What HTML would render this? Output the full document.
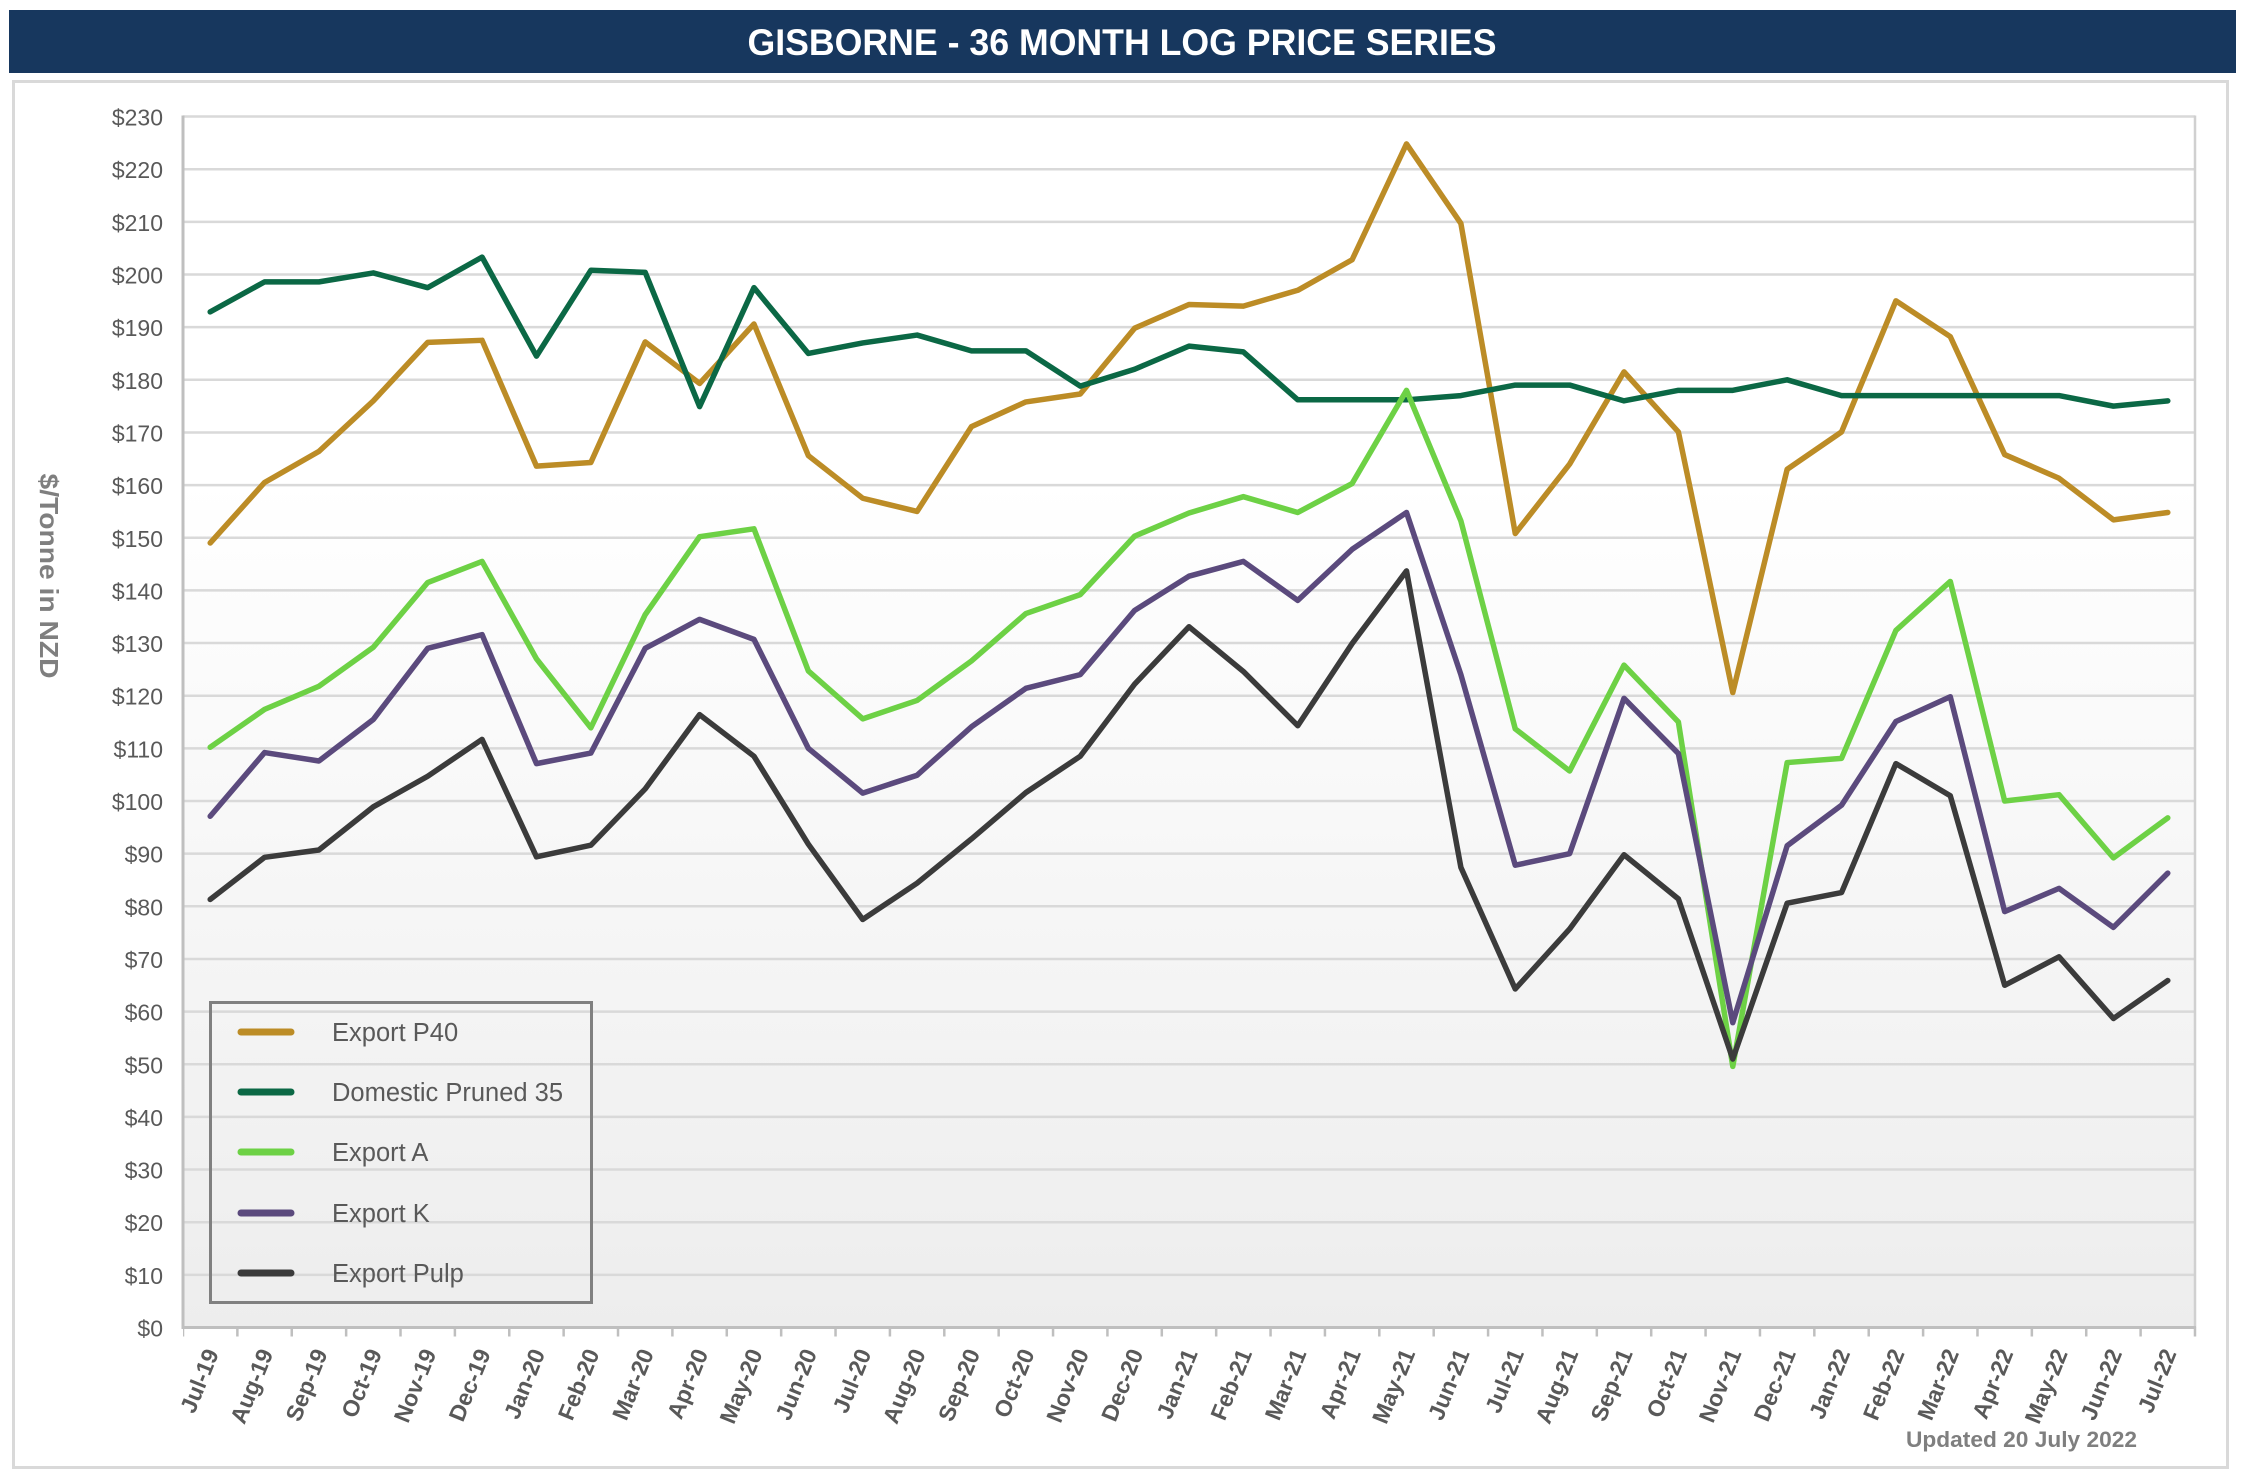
<!DOCTYPE html>
<html>
<head>
<meta charset="utf-8">
<style>
html,body{margin:0;padding:0;background:#fff;}
svg{display:block;font-family:"Liberation Sans",Arial,sans-serif;}
</style>
</head>
<body>
<svg width="2242" height="1482" viewBox="0 0 2242 1482" xmlns="http://www.w3.org/2000/svg">
<defs>
<linearGradient id="bg" x1="0" y1="0" x2="0" y2="1">
<stop offset="0" stop-color="#ffffff"/>
<stop offset="0.3" stop-color="#ffffff"/>
<stop offset="1" stop-color="#ededed"/>
</linearGradient>
</defs>
<!-- header -->
<rect x="9" y="10" width="2227" height="63" fill="#17375E"/>
<text x="1122" y="55" fill="#ffffff" font-size="37" font-weight="bold" text-anchor="middle" textLength="749" lengthAdjust="spacingAndGlyphs">GISBORNE - 36 MONTH LOG PRICE SERIES</text>
<!-- chart area -->
<rect x="13.5" y="81.5" width="2214" height="1386" fill="#ffffff" stroke="#d9d9d9" stroke-width="3"/>
<!-- plot area -->
<rect x="183" y="116.5" width="2012" height="1211" fill="url(#bg)"/>
<g stroke="#d9d9d9" stroke-width="2.5">
<line x1="183" x2="2195" y1="116.55" y2="116.55"/>
<line x1="183" x2="2195" y1="169.2" y2="169.2"/>
<line x1="183" x2="2195" y1="221.85" y2="221.85"/>
<line x1="183" x2="2195" y1="274.5" y2="274.5"/>
<line x1="183" x2="2195" y1="327.15" y2="327.15"/>
<line x1="183" x2="2195" y1="379.8" y2="379.8"/>
<line x1="183" x2="2195" y1="432.45" y2="432.45"/>
<line x1="183" x2="2195" y1="485.1" y2="485.1"/>
<line x1="183" x2="2195" y1="537.75" y2="537.75"/>
<line x1="183" x2="2195" y1="590.4" y2="590.4"/>
<line x1="183" x2="2195" y1="643.05" y2="643.05"/>
<line x1="183" x2="2195" y1="695.7" y2="695.7"/>
<line x1="183" x2="2195" y1="748.35" y2="748.35"/>
<line x1="183" x2="2195" y1="801" y2="801"/>
<line x1="183" x2="2195" y1="853.65" y2="853.65"/>
<line x1="183" x2="2195" y1="906.3" y2="906.3"/>
<line x1="183" x2="2195" y1="958.95" y2="958.95"/>
<line x1="183" x2="2195" y1="1011.6" y2="1011.6"/>
<line x1="183" x2="2195" y1="1064.25" y2="1064.25"/>
<line x1="183" x2="2195" y1="1116.9" y2="1116.9"/>
<line x1="183" x2="2195" y1="1169.55" y2="1169.55"/>
<line x1="183" x2="2195" y1="1222.2" y2="1222.2"/>
<line x1="183" x2="2195" y1="1274.85" y2="1274.85"/>
</g>
<!-- right border -->
<line x1="2195" x2="2195" y1="115.5" y2="1328" stroke="#d0d0d0" stroke-width="2.5"/>
<!-- axes -->
<line x1="183" x2="183" y1="115.5" y2="1329" stroke="#bfbfbf" stroke-width="3"/>
<line x1="181.5" x2="2196" y1="1327.5" y2="1327.5" stroke="#bfbfbf" stroke-width="3"/>
<line x1="183" x2="2197" y1="1332" y2="1332" stroke="#bfbfbf" stroke-width="9" stroke-dasharray="2.5 51.878" stroke-dashoffset="1.25"/>
<!-- y labels -->
<g fill="#595959" font-size="23" text-anchor="end">
<text x="163" y="125.55">$230</text>
<text x="163" y="178.2">$220</text>
<text x="163" y="230.85">$210</text>
<text x="163" y="283.5">$200</text>
<text x="163" y="336.15">$190</text>
<text x="163" y="388.8">$180</text>
<text x="163" y="441.45">$170</text>
<text x="163" y="494.1">$160</text>
<text x="163" y="546.75">$150</text>
<text x="163" y="599.4">$140</text>
<text x="163" y="652.05">$130</text>
<text x="163" y="704.7">$120</text>
<text x="163" y="757.35">$110</text>
<text x="163" y="810">$100</text>
<text x="163" y="862.65">$90</text>
<text x="163" y="915.3">$80</text>
<text x="163" y="967.95">$70</text>
<text x="163" y="1020.6">$60</text>
<text x="163" y="1073.25">$50</text>
<text x="163" y="1125.9">$40</text>
<text x="163" y="1178.55">$30</text>
<text x="163" y="1231.2">$20</text>
<text x="163" y="1283.85">$10</text>
<text x="163" y="1336.5">$0</text>
</g>
<!-- y title -->
<text transform="translate(40,576) rotate(90)" fill="#7f7f7f" font-size="26" font-weight="bold" text-anchor="middle" textLength="205" lengthAdjust="spacingAndGlyphs">$/Tonne in NZD</text>
<!-- x labels -->
<g fill="#595959" font-size="23" font-weight="bold" text-anchor="end">
<text transform="translate(219.19,1353) rotate(-68)">Jul-19</text>
<text transform="translate(273.57,1353) rotate(-68)">Aug-19</text>
<text transform="translate(327.95,1353) rotate(-68)">Sep-19</text>
<text transform="translate(382.32,1353) rotate(-68)">Oct-19</text>
<text transform="translate(436.70,1353) rotate(-68)">Nov-19</text>
<text transform="translate(491.08,1353) rotate(-68)">Dec-19</text>
<text transform="translate(545.46,1353) rotate(-68)">Jan-20</text>
<text transform="translate(599.84,1353) rotate(-68)">Feb-20</text>
<text transform="translate(654.21,1353) rotate(-68)">Mar-20</text>
<text transform="translate(708.59,1353) rotate(-68)">Apr-20</text>
<text transform="translate(762.97,1353) rotate(-68)">May-20</text>
<text transform="translate(817.35,1353) rotate(-68)">Jun-20</text>
<text transform="translate(871.73,1353) rotate(-68)">Jul-20</text>
<text transform="translate(926.10,1353) rotate(-68)">Aug-20</text>
<text transform="translate(980.48,1353) rotate(-68)">Sep-20</text>
<text transform="translate(1034.86,1353) rotate(-68)">Oct-20</text>
<text transform="translate(1089.24,1353) rotate(-68)">Nov-20</text>
<text transform="translate(1143.62,1353) rotate(-68)">Dec-20</text>
<text transform="translate(1197.99,1353) rotate(-68)">Jan-21</text>
<text transform="translate(1252.37,1353) rotate(-68)">Feb-21</text>
<text transform="translate(1306.75,1353) rotate(-68)">Mar-21</text>
<text transform="translate(1361.13,1353) rotate(-68)">Apr-21</text>
<text transform="translate(1415.51,1353) rotate(-68)">May-21</text>
<text transform="translate(1469.88,1353) rotate(-68)">Jun-21</text>
<text transform="translate(1524.26,1353) rotate(-68)">Jul-21</text>
<text transform="translate(1578.64,1353) rotate(-68)">Aug-21</text>
<text transform="translate(1633.02,1353) rotate(-68)">Sep-21</text>
<text transform="translate(1687.40,1353) rotate(-68)">Oct-21</text>
<text transform="translate(1741.77,1353) rotate(-68)">Nov-21</text>
<text transform="translate(1796.15,1353) rotate(-68)">Dec-21</text>
<text transform="translate(1850.53,1353) rotate(-68)">Jan-22</text>
<text transform="translate(1904.91,1353) rotate(-68)">Feb-22</text>
<text transform="translate(1959.29,1353) rotate(-68)">Mar-22</text>
<text transform="translate(2013.66,1353) rotate(-68)">Apr-22</text>
<text transform="translate(2068.04,1353) rotate(-68)">May-22</text>
<text transform="translate(2122.42,1353) rotate(-68)">Jun-22</text>
<text transform="translate(2176.80,1353) rotate(-68)">Jul-22</text>
</g>
<!-- series -->
<g transform="translate(210.19,1327.5) scale(54.378,-5.265)" fill="none" stroke-linejoin="round" stroke-linecap="round">
<polyline vector-effect="non-scaling-stroke" stroke="#BC8C26" stroke-width="5.5" points="0,149 1,160.5 2,166.4 3,176 4,187.1 5,187.5 6,163.6 7,164.3 8,187.2 9,179.3 10,190.6 11,165.6 12,157.5 13,155 14,171.1 15,175.8 16,177.3 17,189.8 18,194.3 19,194 20,197 21,202.8 22,224.8 23,209.7 24,150.8 25,164 26,181.5 27,170.1 28,120.6 29,163 30,170.1 31,195 32,188.2 33,165.8 34,161.3 35,153.4 36,154.8"/>
<polyline vector-effect="non-scaling-stroke" stroke="#0B6845" stroke-width="5.5" points="0,192.9 1,198.6 2,198.6 3,200.3 4,197.5 5,203.3 6,184.5 7,200.8 8,200.4 9,174.9 10,197.5 11,185 12,187 13,188.5 14,185.5 15,185.5 16,178.8 17,182 18,186.4 19,185.3 20,176.2 21,176.2 22,176.2 23,177 24,179 25,179 26,176 27,178 28,178 29,180 30,177 31,177 32,177 33,177 34,177 35,175 36,176"/>
<polyline vector-effect="non-scaling-stroke" stroke="#6DD145" stroke-width="5.5" points="0,110.2 1,117.4 2,121.8 3,129.2 4,141.5 5,145.5 6,127 7,113.9 8,135.4 9,150.2 10,151.7 11,124.7 12,115.6 13,119.1 14,126.6 15,135.6 16,139.2 17,150.3 18,154.7 19,157.8 20,154.8 21,160.3 22,178 23,153.2 24,113.7 25,105.7 26,125.8 27,115 28,49.6 29,107.3 30,108.1 31,132.4 32,141.7 33,100 34,101.2 35,89.2 36,96.8"/>
<polyline vector-effect="non-scaling-stroke" stroke="#5B4A7D" stroke-width="5.5" points="0,97.1 1,109.2 2,107.6 3,115.5 4,129 5,131.6 6,107.1 7,109.1 8,129 9,134.5 10,130.7 11,110 12,101.5 13,104.9 14,114.1 15,121.4 16,124 17,136.2 18,142.7 19,145.5 20,138.1 21,147.8 22,154.8 23,124 24,87.8 25,90 26,119.5 27,109 28,57.9 29,91.5 30,99.2 31,115.1 32,119.8 33,79 34,83.4 35,76 36,86.3"/>
<polyline vector-effect="non-scaling-stroke" stroke="#3B3B3B" stroke-width="5.5" points="0,81.3 1,89.3 2,90.7 3,98.9 4,104.7 5,111.7 6,89.4 7,91.6 8,102.3 9,116.4 10,108.5 11,91.8 12,77.5 13,84.4 14,92.8 15,101.6 16,108.5 17,122.2 18,133.1 19,124.6 20,114.3 21,129.9 22,143.7 23,87.4 24,64.3 25,75.7 26,89.8 27,81.4 28,51 29,80.6 30,82.6 31,107.1 32,101 33,65 34,70.4 35,58.7 36,65.9"/>
</g>
<!-- legend -->
<rect x="210.5" y="1002.5" width="381" height="300" fill="none" stroke="#808080" stroke-width="3"/>
<g stroke-width="7" stroke-linecap="round">
<line x1="241" x2="291" y1="1032" y2="1032" stroke="#BC8C26"/>
<line x1="241" x2="291" y1="1092" y2="1092" stroke="#0B6845"/>
<line x1="241" x2="291" y1="1152" y2="1152" stroke="#6DD145"/>
<line x1="241" x2="291" y1="1213" y2="1213" stroke="#5B4A7D"/>
<line x1="241" x2="291" y1="1273" y2="1273" stroke="#3B3B3B"/>
</g>
<g fill="#595959" font-size="25.5">
<text x="332" y="1041">Export P40</text>
<text x="332" y="1101">Domestic Pruned 35</text>
<text x="332" y="1161">Export A</text>
<text x="332" y="1222">Export K</text>
<text x="332" y="1282">Export Pulp</text>
</g>
<!-- updated -->
<text x="2137" y="1447" fill="#7f7f7f" font-size="22" font-weight="bold" text-anchor="end" textLength="231" lengthAdjust="spacingAndGlyphs">Updated 20 July 2022</text>
</svg>
</body>
</html>
